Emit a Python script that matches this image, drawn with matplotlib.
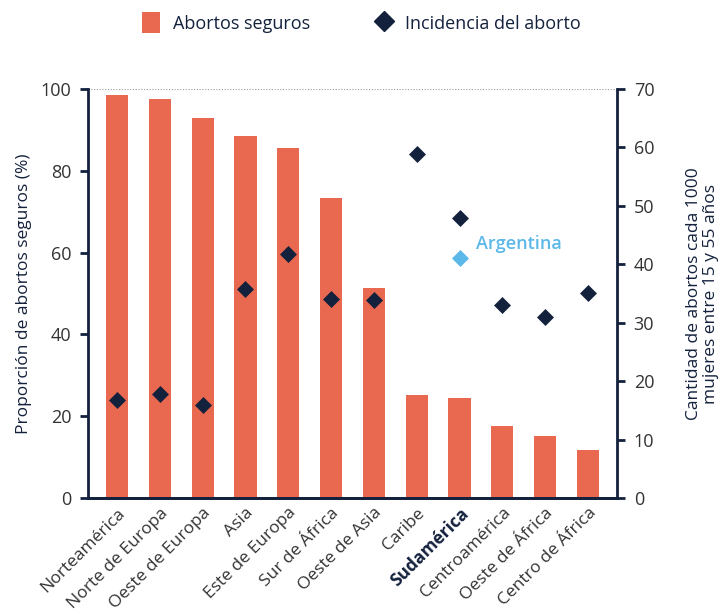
import matplotlib
matplotlib.use("Agg")

import matplotlib.pyplot as plt
from matplotlib.lines import Line2D
from matplotlib.patches import Patch

plt.rcParams["font.family"] = ["Open Sans", "DejaVu Sans"]

# ── Data ──────────────────────────────────────────────────────────────────────
regions = [
    "Norteamérica", "Norte de Europa", "Oeste de Europa", "Asia",
    "Este de Europa", "Sur de África", "Oeste de Asia", "Caribe",
    "Sudamérica", "Centroamérica", "Oeste de África", "Centro de África",
]
safe_pct = [98.5, 97.6, 92.9, 88.5, 85.6, 73.3, 51.3, 25.2, 24.4, 17.6, 15.2, 11.7]
incidence = [16.8, 17.8, 15.9, 35.8, 41.8, 34.1, 33.9, 58.9, 47.9, 33.0, 31.0, 35.1]
argentina_region = "Sudamérica"
argentina_incidence = 41.1

BAR_COLOR = "#E8694F"
NAVY = "#14213D"
LIGHT_BLUE = "#5BB8E8"
TEXT = "#333333"

fig = plt.figure(figsize=(7.23, 6.14), dpi=100)
ax = fig.add_axes([0.1217, 0.1889, 0.7317, 0.6661])
ax2 = ax.twinx()

x = list(range(len(regions)))
ax.bar(x, safe_pct, width=0.52, color=BAR_COLOR, zorder=2)
ax.axhline(100, color="#999999", linestyle=(0, (1, 1.5)), linewidth=0.8, zorder=1)

ax2.scatter(x, incidence, marker="D", s=75, color=NAVY, zorder=3, linewidths=0)
ai = regions.index(argentina_region)
ax2.scatter([ai], [argentina_incidence], marker="D", s=75, color=LIGHT_BLUE,
            zorder=3, linewidths=0)
ax2.annotate("Argentina", (ai, argentina_incidence), xytext=(12, 10),
             textcoords="offset points", color=LIGHT_BLUE, fontsize=13,
             fontweight="semibold", va="center", ha="left")

ax.set_xlim(-0.68, len(regions) - 0.32)
ax.set_ylim(0, 100)
ax2.set_ylim(0, 70)
ax.set_yticks(range(0, 101, 20))
ax2.set_yticks(range(0, 71, 10))

for a in (ax, ax2):
    a.spines["top"].set_visible(False)
    for side in ("left", "right", "bottom"):
        a.spines[side].set_color(NAVY)
        a.spines[side].set_linewidth(2)
    a.tick_params(axis="y", colors=NAVY, width=2, length=6, labelsize=13,
                  labelcolor=TEXT, pad=6)
ax.spines["right"].set_visible(False)
ax2.spines["left"].set_visible(False)

ax.set_xticks(x)
ax.set_xticklabels(regions, rotation=45, ha="right", rotation_mode="anchor",
                   fontsize=12.5, color=TEXT)
ax.tick_params(axis="x", length=0, pad=5)
for lbl in ax.get_xticklabels():
    if lbl.get_text() == "Sudamérica":
        lbl.set_fontweight("bold")
        lbl.set_color(NAVY)

ax.set_ylabel("Proporción de abortos seguros (%)", fontsize=12.5, color=NAVY, labelpad=6)
ax2.set_ylabel("Cantidad de abortos cada 1000\nmujeres entre 15 y 55 años",
               fontsize=12.5, color=NAVY, rotation=90, labelpad=23, linespacing=1.1)

handles = [
    Patch(facecolor=BAR_COLOR, edgecolor="none", label="Abortos seguros"),
    Line2D([], [], marker="D", linestyle="none", color=NAVY, markersize=10,
           label="Incidencia del aborto"),
]
fig.legend(handles=handles, loc="center", bbox_to_anchor=(0.5, 0.963), ncol=2,
           frameon=False, fontsize=13, handlelength=1.0, handleheight=1.4,
           columnspacing=3.6, handletextpad=0.7, labelcolor=NAVY)

fig.savefig("out.png", dpi=100)
